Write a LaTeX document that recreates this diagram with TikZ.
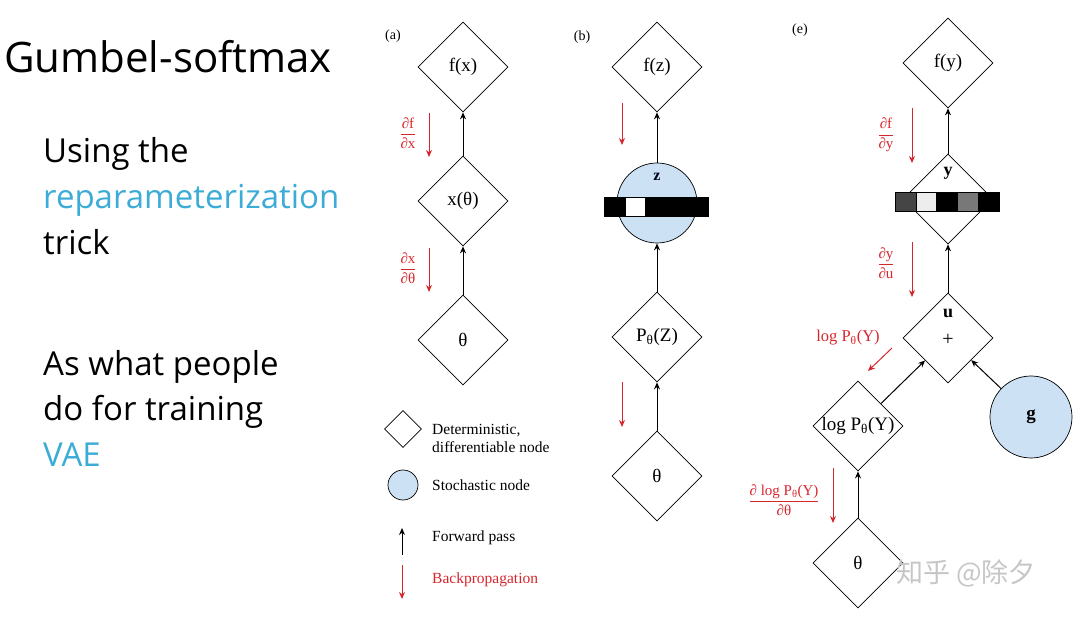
\documentclass[tikz,border=0pt]{standalone}
\usepackage{fontspec}
\setmainfont{Liberation Serif}
\newfontfamily\slidefont{Open Sans}
\newfontfamily\cjk{Noto Sans CJK SC}
\usetikzlibrary{shapes.geometric,arrows.meta}
\definecolor{bpred}{RGB}{214,38,45}
\definecolor{stochblue}{RGB}{205,225,245}
\definecolor{slideblue}{RGB}{60,172,215}

\begin{document}
\begin{tikzpicture}[x=1pt, y=-1pt,
  det/.style={draw, diamond, aspect=1, minimum width=90pt, minimum height=90pt, inner sep=0pt, fill=white, line width=0.7pt, font=\fontsize{19}{21}\selectfont},
  stoch/.style={draw, circle, fill=stochblue, minimum size=80pt, inner sep=0pt, line width=0.7pt, font=\fontsize{19}{21}\selectfont\bfseries},
  fwd/.style={-{Stealth[length=7pt, width=6pt]}, line width=1pt},
  bp/.style={-{Stealth[length=7pt, width=6pt]}, line width=1pt, color=bpred},
  grad/.style={text=bpred, font=\fontsize{15}{17}\selectfont, inner sep=0pt},
  panel/.style={font=\fontsize{14}{16}\selectfont, inner sep=0pt},
  legtxt/.style={anchor=west, font=\fontsize{15.5}{18}\selectfont, align=left, inner sep=0pt},
  slide/.style={anchor=base west, font=\slidefont\fontsize{33}{46}\selectfont, align=left, inner sep=0pt}
]
\useasboundingbox (0,0) rectangle (1080,620);

% Slide text
\node[anchor=base west, inner sep=0pt, font=\slidefont\fontsize{42}{46}\selectfont] (title) at (4,73) {Gumbel-softmax};
\node[slide] (trick) at (43,255) {Using the\\\textcolor{slideblue}{reparameterization}\\trick};
\node[slide] (vae) at (43,467) {As what people\\do for training\\\textcolor{slideblue}{VAE}};

% (a) deterministic chain
\node[panel] (lbla) at (393,36) {(a)};
\node[det] (fx) at (463,67) {f(x)};
\node[det] (xth) at (463,201) {x(θ)};
\node[det] (tha) at (463,340) {θ};
\draw[fwd] (xth) -- (fx);
\draw[fwd] (tha) -- (xth);
\draw[bp] (429,113) -- (429,157);
\draw[bp] (429,248) -- (429,292);
\node[grad] (dfdx) at (408,133) {$\displaystyle\frac{\textrm{∂f}}{\textrm{∂x}}$};
\node[grad] (dxdth) at (408,268) {$\displaystyle\frac{\textrm{∂x}}{\textrm{∂θ}}$};

% (b) stochastic sample
\node[panel] (lblb) at (582,37) {(b)};
\node[det] (fz) at (657,67) {f(z)};
\node[stoch] (z) at (657,203) {};
\node[det] (pz) at (657,337) {P\textsubscript{θ}(Z)};
\node[det] (thb) at (657,476) {θ};
\foreach \c [count=\i from 0] in {black,white,black,black,black}
  \filldraw[fill=\c, draw=black] (604+20.8*\i,197) rectangle ++(20.8,19);
\node[font=\fontsize{16}{18}\selectfont\bfseries, text=black!85!blue] (zlbl) at (657,177) {z};
\draw[fwd] (z) -- (fz);
\draw[fwd] (pz) -- (z);
\draw[fwd] (thb) -- (pz);
\draw[bp] (622,103) -- (622,145);
\draw[bp] (622,382) -- (622,427);

% (e) Gumbel-softmax
\node[panel] (lble) at (800,30) {(e)};
\node[det] (fy) at (948,63) {f(y)};
\node[det] (yd) at (948,199) {};
\node[det] (ud) at (948,338) {};
\node[det] (logp) at (858,426) {log P\textsubscript{θ}(Y)};
\node[det] (the) at (858,563) {θ};
\node[stoch] (g) at (1031,417) [minimum size=82pt] {g};
\foreach \c [count=\i from 0] in {black!73,black!7,black,black!53,black}
  \filldraw[fill=\c, draw=black] (895+20.8*\i,192) rectangle ++(20.8,19);
\node[font=\fontsize{18}{20}\selectfont\bfseries] (ylbl) at (948,173) {y};
\node[font=\fontsize{18}{20}\selectfont\bfseries] (ulbl) at (948,313) {u};
\node[font=\fontsize{20}{22}\selectfont] (plus) at (948,340) {+};
\draw[fwd] (yd) -- (fy);
\draw[fwd] (ud) -- (yd);
\draw[fwd] (logp) -- (ud);
\draw[fwd] (g) -- (ud);
\draw[fwd] (the) -- (logp);
\draw[bp] (912,108) -- (912,163);
\draw[bp] (912,242) -- (912,297);
\draw[bp] (892,348) -- (868,371);
\draw[bp] (833,468) -- (833,523);
\node[grad] (dfdy) at (886,135) {$\displaystyle\frac{\textrm{∂f}}{\textrm{∂y}}$};
\node[grad] (dydu) at (886,263) {$\displaystyle\frac{\textrm{∂y}}{\textrm{∂u}}$};
\node[grad, font=\fontsize{16.5}{18}\selectfont] (logpy) at (848,338) {log P\textsubscript{θ}(Y)};
\node[grad] (dlogp) at (784,500) {$\displaystyle\frac{\textrm{∂ log P\textsubscript{θ}(Y)}}{\textrm{∂θ}}$};

% Legend
\node[det, minimum width=37pt, minimum height=37pt] (legdet) at (403,429) {};
\node[legtxt] (legdettxt) at (432,438) {Deterministic,\\differentiable node};
\node[stoch, minimum size=30pt] (legsto) at (403,485) {};
\node[legtxt] (legstotxt) at (432,485) {Stochastic node};
\coordinate (fwdlo) at (402,555);
\coordinate (fwdhi) at (402,528);
\draw[fwd] (fwdlo) -- (fwdhi);
\node[legtxt] (legfwd) at (432,538) {Forward pass};
\coordinate (bphi) at (402,565);
\coordinate (bplo) at (402,599);
\draw[bp] (bphi) -- (bplo);
\node[legtxt, text=bpred] (legbp) at (432,580) {Backpropagation};

% Watermark
\node[text=gray!45, font=\cjk\fontsize{27}{27}\selectfont] (wm) at (966,573) {知乎 @除夕};
\end{tikzpicture}
\end{document}
